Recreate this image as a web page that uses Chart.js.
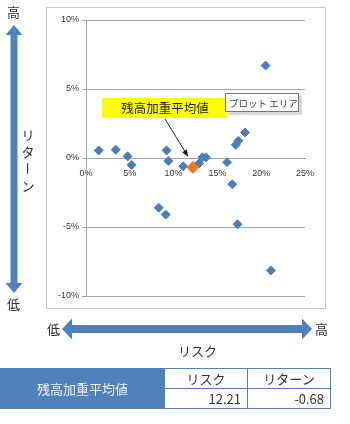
<!DOCTYPE html>
<html>
<head>
<meta charset="utf-8">
<script src="https://cdn.jsdelivr.net/npm/chart.js@4/dist/chart.umd.min.js"></script>
<style>
  body { margin: 0; width: 350px; height: 424px; background: #fff; position: relative; overflow: hidden;
         font-family: "Noto Sans CJK JP", "Noto Sans", sans-serif; color: #333; }
  #wrap { position: absolute; left: 0; top: 0; width: 350px; height: 320px; }
  .lbl { position: absolute; font-size: 13px; line-height: 14px; }
  .vert { line-height: 17px; text-align: center; }
  .vert span { display: block; }
  .vert .rot { transform: rotate(90deg); }
  table { position: absolute; left: 0; top: 368px; border-collapse: collapse; font-size: 13px; }
  td { height: 19px; padding: 0 6px; border: 1px solid #4f81bd; line-height: 19px; }
  td.head { background: #4f81bd; color: #f2f2f2; text-align: center; width: 151px; }
  td.c { text-align: center; width: 70px; }
  td.r { text-align: right; }
</style>
</head>
<body>
<div id="wrap"><canvas id="riskChart" width="350" height="320"></canvas></div>

<svg width="350" height="424" style="position:absolute;left:0;top:0">
  <!-- vertical arrow (return) -->
  <polygon fill="#4f81bd" points="14,25 22.5,35 17.5,35 17.5,283 22.5,283 14,293 5.5,283 10.5,283 10.5,35 5.5,35" />
  <!-- horizontal arrow (risk) -->
  <polygon fill="#4f81bd" points="62,329 72,318.5 72,325 302,325 302,318.5 312,329 302,339.5 302,333 72,333 72,339.5" />
</svg>

<div class="lbl" style="left:7px;top:5px">高</div>
<div class="lbl" style="left:7px;top:297px">低</div>
<div class="lbl vert" style="left:20px;top:126px;width:16px;"><span>リ</span><span>タ</span><span class="rot">ー</span><span>ン</span></div>
<div class="lbl" style="left:47px;top:322px">低</div>
<div class="lbl" style="left:315px;top:322px">高</div>
<div class="lbl" style="left:178px;top:344px">リスク</div>

<table>
  <tr><td class="head" rowspan="2">残高加重平均値</td><td class="c">リスク</td><td class="c">リターン</td></tr>
  <tr><td class="r">12.21</td><td class="r">-0.68</td></tr>
</table>

<script>
// risk (%) and return (%) of each holding
const riskValues   = [1.45, 3.4, 4.75, 5.2, 8.3, 9.1, 9.2, 9.4, 11.1, 12.9, 13.3, 13.7, 16.1, 16.7, 17.1, 17.3, 17.4, 18.15, 20.5, 21.1];
const returnValues = [0.55, 0.6, 0.12, -0.5, -3.6, -4.1, 0.55, -0.22, -0.6, -0.4, 0.05, 0.05, -0.3, -1.9, 0.95, -4.8, 1.25, 1.85, 6.7, -8.15];
// balance-weighted average
const avgRisk = 12.21;
const avgReturn = -0.68;
const xTicks = [0, 5, 10, 15, 20, 25];
const yTicks = [-10, -5, 0, 5, 10];

const points = riskValues.map((r, i) => ({ x: r, y: returnValues[i] }));

const decorPlugin = {
  id: 'decor',
  beforeDraw(chart) {
    const c = chart.ctx;
    c.save();
    c.strokeStyle = '#c8c8c8';
    c.lineWidth = 1;
    c.strokeRect(46.5, 7.5, 279, 301);
    c.restore();
  },
  afterDatasetsDraw(chart) {
    const c = chart.ctx;
    const xs = chart.scales.x, ys = chart.scales.y;
    c.save();
    // yellow label
    c.fillStyle = '#ffff00';
    c.fillRect(102, 98, 125, 20);
    c.fillStyle = '#222';
    c.font = '12.5px "Noto Sans CJK JP"';
    c.textAlign = 'center';
    c.textBaseline = 'middle';
    c.fillText('残高加重平均値', 165, 108);
    // arrow to the average point
    const ex = xs.getPixelForValue(avgRisk) - 5;
    const ey = ys.getPixelForValue(avgReturn) - 11;
    const sx = 165, sy = 119;
    c.strokeStyle = '#222';
    c.lineWidth = 1;
    c.beginPath(); c.moveTo(sx, sy); c.lineTo(ex, ey); c.stroke();
    const a = Math.atan2(ey - sy, ex - sx);
    c.fillStyle = '#111';
    c.beginPath();
    c.moveTo(ex, ey);
    c.lineTo(ex - 7 * Math.cos(a - 0.4), ey - 7 * Math.sin(a - 0.4));
    c.lineTo(ex - 7 * Math.cos(a + 0.4), ey - 7 * Math.sin(a + 0.4));
    c.closePath(); c.fill();
    // "plot area" hint box
    c.fillStyle = 'rgba(0,0,0,0.15)';
    c.fillRect(228, 96, 74, 19);
    c.fillStyle = '#fff';
    c.fillRect(225, 93, 74, 19);
    c.strokeStyle = '#777';
    c.strokeRect(225.5, 93.5, 73, 18);
    c.fillStyle = '#444';
    c.font = '9.5px "Noto Sans CJK JP"';
    c.textAlign = 'left';
    c.fillText('プロット エリア', 229, 103);
    c.restore();
  }
};

new Chart(document.getElementById('riskChart'), {
  type: 'scatter',
  data: {
    datasets: [{
      label: '残高加重平均値',
      data: [{ x: avgRisk, y: avgReturn }],
      pointStyle: 'rectRot',
      pointRadius: 6,
      backgroundColor: '#ee7b22',
      borderColor: '#ee7b22'
    }, {
      label: 'ファンド',
      data: points,
      pointStyle: 'rectRot',
      pointRadius: 4.5,
      backgroundColor: '#4a7ebb',
      borderColor: '#4a7ebb'
    }]
  },
  options: {
    responsive: false,
    animation: false,
    layout: { padding: { left: 48, right: 45, top: 20, bottom: 24 } },
    plugins: { legend: { display: false }, tooltip: { enabled: false } },
    scales: {
      x: {
        type: 'linear',
        position: { y: 0 },
        min: 0, max: 25,
        afterBuildTicks(scale) { scale.ticks = xTicks.map(v => ({ value: v })); },
        grid: { display: false },
        border: { display: true, color: '#a6a6a6' },
        ticks: {
          autoSkip: false, maxRotation: 0, padding: 2,
          color: '#333', font: { size: 9, family: 'Liberation Sans' },
          callback: v => v + '%'
        }
      },
      y: {
        min: -10, max: 10,
        afterBuildTicks(scale) { scale.ticks = yTicks.map(v => ({ value: v })); },
        afterFit(scale) { scale.width = 38; },
        grid: { color: '#a6a6a6', tickLength: 4 },
        border: { display: true, color: '#a6a6a6' },
        ticks: {
          padding: 3, color: '#333', font: { size: 9, family: 'Liberation Sans' },
          callback: v => v + '%'
        }
      }
    }
  },
  plugins: [decorPlugin]
});
</script>
</body>
</html>
